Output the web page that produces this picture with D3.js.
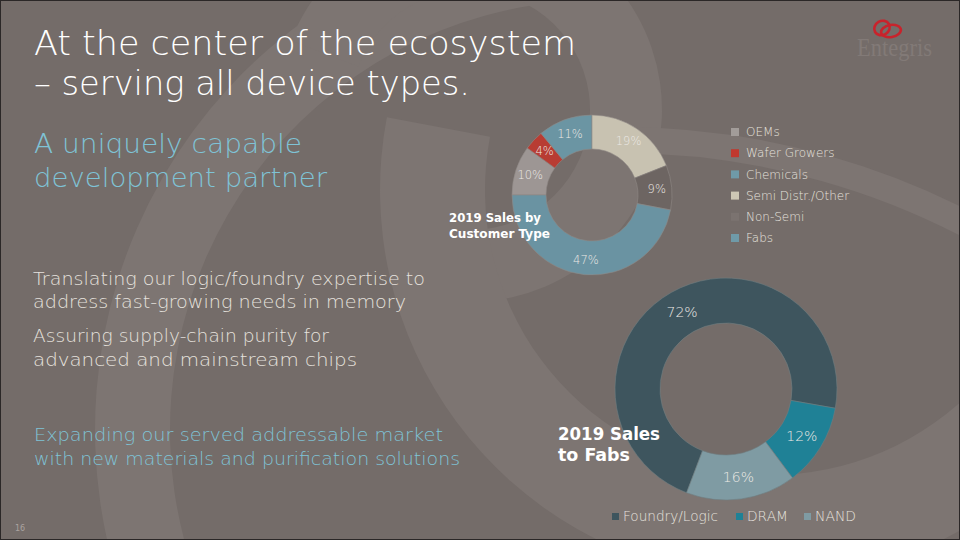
<!DOCTYPE html>
<html>
<head>
<meta charset="utf-8">
<script src="https://cdn.jsdelivr.net/npm/d3@7"></script>
<style>
  html, body { margin: 0; padding: 0; background: #746c69; }
  svg { display: block; }
  text { font-family: "DejaVu Sans", sans-serif; }
</style>
</head>
<body>
<svg width="960" height="540"></svg>
<script>
// Data
const custTypes = ["OEMs", "Wafer Growers", "Chemicals", "Semi Distr./Other", "Non-Semi", "Fabs"];
const custShares = [10, 4, 11, 19, 9, 47];
const custColors = ["#9d9694", "#b83c33", "#6b95a3", "#c8c2b1", "#6d6562", "#6a93a2"];
const custSwatch = ["#a29c99", "#c0392f", "#6f9aa8", "#cdc7b5", "#7b7370", "#6f9aa8"];

const fabTypes = ["Foundry/Logic", "DRAM", "NAND"];
const fabShares = [72, 12, 16];
const fabColors = ["#3e555e", "#1f8196", "#7f9ba3"];

const svg = d3.select("svg"),
  width = +svg.attr("width"),
  height = +svg.attr("height");

// Background and the faint logo swirl
svg.append("rect").attr("width", width).attr("height", height).attr("fill", "#746c69");

const swirl = svg.append("g").attr("fill", "#7d7572");
swirl.append("path")
  .attr("transform", "translate(600,430)")
  .attr("d", d3.arc().innerRadius(430).outerRadius(505).startAngle(-3.6).endAngle(-0.05)());
swirl.append("path")
  .attr("transform", "translate(470,110)")
  .attr("d", d3.arc().innerRadius(120).outerRadius(192).startAngle(-1.2).endAngle(3.3)());
swirl.append("path")
  .attr("transform", "translate(770,190)")
  .attr("d", d3.arc().innerRadius(285).outerRadius(390).startAngle(1.6).endAngle(4.9)());
swirl.append("path")
  .attr("transform", "translate(620,895)")
  .attr("d", d3.arc().innerRadius(742).outerRadius(768).startAngle(0).endAngle(0.55)());

svg.append("rect").attr("x", 0.5).attr("y", 0.5).attr("width", width - 1).attr("height", height - 1)
  .attr("fill", "none").attr("stroke", "#2b2727");

// helper for text lines
function line(x, y, str, size, color, target, weight) {
  const t = svg.append("text")
    .attr("x", x).attr("y", y)
    .attr("font-size", size)
    .attr("fill", color)
    .attr("font-weight", weight || 400)
    .text(str);
  if (target) t.attr("textLength", target).attr("lengthAdjust", "spacingAndGlyphs");
  return t;
}

// Headline and bullets
line(34, 55, "At the center of the ecosystem", 33, "#ffffff", 542, 200);
line(34, 95, "– serving all device types.", 33, "#ffffff", 436, 200);
line(34, 153, "A uniquely capable", 26, "#7fc3d6", 268, 200);
line(34, 187, "development partner", 26, "#7fc3d6", 293, 200);
line(33, 285, "Translating our logic/foundry expertise to", 17.5, "#e6e2de", 392, 200);
line(33, 308, "address fast-growing needs in memory", 17.5, "#e6e2de", 373, 200);
line(33, 342, "Assuring supply-chain purity for", 17.5, "#e6e2de", 296, 200);
line(33, 366, "advanced and mainstream chips", 17.5, "#e6e2de", 324, 200);
line(34, 441, "Expanding our served addressable market", 17.5, "#7fc3d6", 409, 200);
line(34, 465, "with new materials and purification solutions", 17.5, "#7fc3d6", 426, 200);
line(15, 531, "16", 8, "#aaa3a0");

// Logo
const logo = svg.append("g").attr("fill", "none").attr("stroke", "#c8232c").attr("stroke-width", 2.6);
logo.append("ellipse").attr("cx", 882).attr("cy", 28).attr("rx", 8).attr("ry", 7)
  .attr("transform", "rotate(-30,882,28)");
logo.append("ellipse").attr("cx", 891).attr("cy", 31).attr("rx", 10).attr("ry", 6)
  .attr("transform", "rotate(-10,891,31)");
svg.append("text").attr("x", 857).attr("y", 56)
  .style("font-family", "'Liberation Serif', serif").attr("font-size", 25)
  .attr("fill", "#827a77").attr("textLength", 75).attr("lengthAdjust", "spacingAndGlyphs")
  .text("Entegris");

// Donut 1: sales by customer type
const c1 = { x: 592, y: 195, r0: 46, r1: 80 };
const pie1 = d3.pie().sort(null).value(d => d).startAngle(-Math.PI / 2).endAngle(1.5 * Math.PI);
const arc1 = d3.arc().innerRadius(c1.r0).outerRadius(c1.r1);
const lab1 = d3.arc().innerRadius(65).outerRadius(65);
const g1 = svg.append("g").attr("transform", `translate(${c1.x},${c1.y})`);
g1.selectAll("path")
  .data(pie1(custShares))
  .join("path")
  .attr("d", arc1)
  .attr("fill", (d, i) => custColors[i])
  .attr("stroke", "#8f8885")
  .attr("stroke-width", 0.6);
g1.selectAll("text")
  .data(pie1(custShares))
  .join("text")
  .attr("transform", d => `translate(${lab1.centroid(d)})`)
  .attr("text-anchor", "middle")
  .attr("dy", "0.35em")
  .attr("font-size", 11.5)
  .attr("font-weight", 200)
  .attr("fill", "#ece9e5")
  .text(d => d.data + "%");

line(449, 222, "2019 Sales by", 12.5, "#ffffff", 92, 700);
line(449, 238, "Customer Type", 12.5, "#ffffff", 101, 700);

// Legend 1
const leg1 = svg.append("g");
const rowY = d3.scalePoint().domain(custTypes).range([132, 238]);
leg1.selectAll("rect")
  .data(custTypes)
  .join("rect")
  .attr("x", 731).attr("y", d => rowY(d) - 4)
  .attr("width", 8).attr("height", 8)
  .attr("fill", (d, i) => custSwatch[i]);
leg1.selectAll("text")
  .data(custTypes)
  .join("text")
  .attr("x", 746).attr("y", d => rowY(d))
  .attr("dy", "0.35em")
  .attr("font-size", 12)
  .attr("font-weight", 200)
  .attr("fill", "#e6e2de")
  .text(d => d);

// Donut 2: sales to fabs
const c2 = { x: 726, y: 389, r0: 66, r1: 111 };
const a0 = -159.2 * Math.PI / 180;
const pie2 = d3.pie().sort(null).value(d => d).startAngle(a0).endAngle(a0 + 2 * Math.PI);
const arc2 = d3.arc().innerRadius(c2.r0).outerRadius(c2.r1);
const lab2 = d3.arc().innerRadius(89).outerRadius(89);
const g2 = svg.append("g").attr("transform", `translate(${c2.x},${c2.y})`);
g2.selectAll("path")
  .data(pie2(fabShares))
  .join("path")
  .attr("d", arc2)
  .attr("fill", (d, i) => fabColors[i])
  .attr("stroke", "#6f7d82")
  .attr("stroke-width", 0.6);
g2.selectAll("text")
  .data(pie2(fabShares))
  .join("text")
  .attr("transform", d => `translate(${lab2.centroid(d)})`)
  .attr("text-anchor", "middle")
  .attr("dy", "0.35em")
  .attr("font-size", 14)
  .attr("font-weight", 200)
  .attr("fill", "#ece9e5")
  .text(d => d.data + "%");

line(558, 440, "2019 Sales", 18, "#ffffff", 102, 700);
line(558, 461, "to Fabs", 18, "#ffffff", 72, 700);

// Legend 2
const legX = [612, 736, 804];
const legW = [95, 41, 41];
const leg2 = svg.append("g");
leg2.selectAll("rect")
  .data(fabTypes)
  .join("rect")
  .attr("x", (d, i) => legX[i]).attr("y", 513)
  .attr("width", 7).attr("height", 7)
  .attr("fill", (d, i) => fabColors[i]);
leg2.selectAll("text")
  .data(fabTypes)
  .join("text")
  .attr("x", (d, i) => legX[i] + 11).attr("y", 521)
  .attr("font-size", 13.5)
  .attr("font-weight", 200)
  .attr("fill", "#e6e2de")
  .attr("textLength", (d, i) => legW[i])
  .attr("lengthAdjust", "spacingAndGlyphs")
  .text(d => d);
</script>
</body>
</html>
